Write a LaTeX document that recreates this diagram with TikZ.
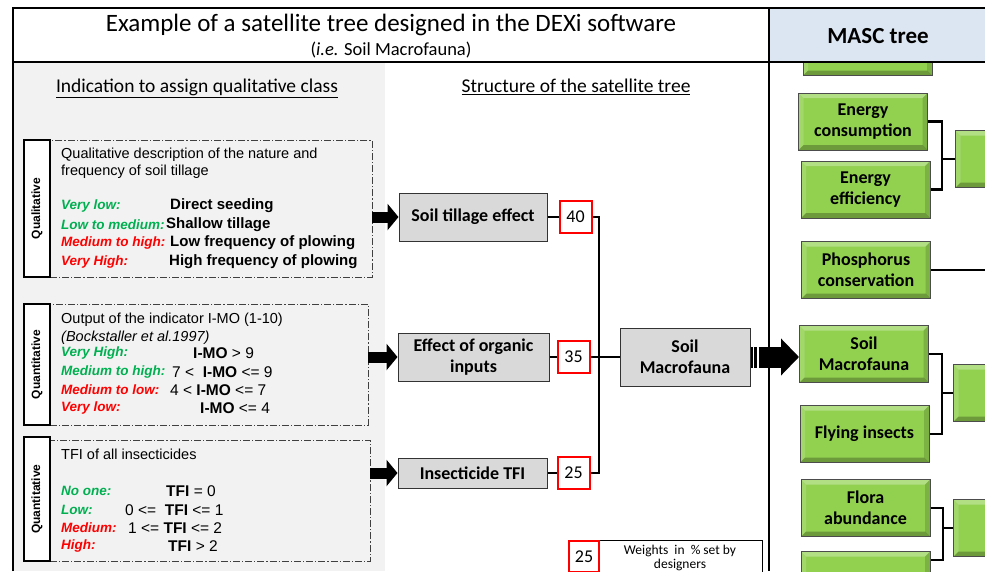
\documentclass[tikz,border=0pt]{standalone}
\usepackage{fontspec}
\setmainfont{Carlito}
\newfontfamily\arialfont{Liberation Sans}
\usetikzlibrary{positioning,arrows.meta}

\definecolor{panelgray}{RGB}{242,242,242}
\definecolor{itemgray}{RGB}{217,217,217}
\definecolor{headblue}{RGB}{220,230,242}
\definecolor{mascgreen}{RGB}{146,208,80}
\definecolor{classgreen}{RGB}{0,176,80}
\definecolor{classred}{RGB}{255,0,0}

\newcommand{\fs}[1]{\fontsize{#1}{#1}\selectfont}

\begin{document}
\begin{tikzpicture}[x=1pt, y=-1pt,
    frame/.style={line width=2.2pt},
    conn/.style={line width=2.2pt},
    kind/.style={draw, line width=2.4pt, fill=white, rotate=90, minimum height=26pt, inner sep=0pt, font=\arialfont\bfseries\fs{12}},
    rule/.style={draw=black!75, line width=0.8pt, dash pattern=on 7pt off 2pt on 1.2pt off 2pt, inner sep=0pt},
    txt/.style={anchor=west, inner sep=0pt, font=\arialfont\fs{14.5}},
    lowcls/.style={txt, text=classgreen, font=\arialfont\bfseries\itshape\fs{13.5}},
    highcls/.style={txt, text=classred, font=\arialfont\bfseries\itshape\fs{13.5}},
    val/.style={txt, font=\arialfont\fs{15.5}},
    valb/.style={txt, font=\arialfont\bfseries\fs{15}},
    item/.style={draw=black!80, fill=itemgray, line width=1pt, align=center, inner sep=0pt, font=\bfseries\fontsize{18}{21}\selectfont},
    weight/.style={draw=red, line width=2pt, fill=white, minimum width=32pt, minimum height=32pt, inner sep=0pt, font=\fs{18}},
    feed/.style={line width=11pt, -{Triangle[length=11pt,width=26pt]}},
    bigfeed/.style={line width=21pt, -{Triangle[length=18pt,width=36pt]}, dash pattern=on 2pt off 1.5pt on 3pt off 1.5pt on 500pt off 1pt},
    crit/.style={draw=black!70, line width=1pt, fill=mascgreen, minimum width=129pt, minimum height=57pt, align=center, inner sep=0pt, font=\bfseries\fontsize{18}{21}\selectfont,
      path picture={
        \fill[white, opacity=.3] (path picture bounding box.north west) -- (path picture bounding box.north east) -- ([shift={(-5pt,-5pt)}]path picture bounding box.north east) -- ([shift={(5pt,-5pt)}]path picture bounding box.north west) -- cycle;
        \fill[white, opacity=.15] (path picture bounding box.north west) -- ([shift={(5pt,-5pt)}]path picture bounding box.north west) -- ([shift={(5pt,5pt)}]path picture bounding box.south west) -- (path picture bounding box.south west) -- cycle;
        \fill[black, opacity=.25] (path picture bounding box.south west) -- (path picture bounding box.south east) -- ([shift={(-5pt,5pt)}]path picture bounding box.south east) -- ([shift={(5pt,5pt)}]path picture bounding box.south west) -- cycle;
        \fill[black, opacity=.15] (path picture bounding box.north east) -- ([shift={(-5pt,-5pt)}]path picture bounding box.north east) -- ([shift={(-5pt,5pt)}]path picture bounding box.south east) -- (path picture bounding box.south east) -- cycle;
      }}]
  \useasboundingbox (0,0) rectangle (985,571);
  \clip (0,0) rectangle (985,571);

  % background and panels
  \fill[white] (0,0) rectangle (985,571);
  \fill[panelgray] (14,63) rectangle (385,571);
  \node[crit] (crit0) at (867.5,47) {};
  \fill[headblue] (770,9) rectangle (985,61);
  \draw[frame] (13,571) -- (13,8) -- (985,8);
  \draw[frame] (13,62) -- (985,62);
  \draw[frame] (769,8) -- (769,571);

  % headings
  \node[font=\fs{25}] (title) at (391,25) {Example of a satellite tree designed in the DEXi software};
  \node[font=\fs{18.5}] (subtitle) at (391,50) {(\textit{i.e.} Soil Macrofauna)};
  \node[font=\bfseries\fs{23}] (masc) at (878,36) {MASC tree};
  \node[font=\fs{19.5}] (hleft) at (197,88) {\underline{Indication to assign qualitative class}};
  \node[font=\fs{19.5}] (hright) at (576,87) {\underline{Structure of the satellite tree}};

  % indicator 1
  \node[rule, minimum width=322pt, minimum height=137pt] (r1) at (211,208.5) {};
  \node[kind, minimum width=137pt] (k1) at (37,208.5) {Qualitative};
  \node[txt] (r1a) at (61,155) {Qualitative description of the nature and};
  \node[txt] (r1b) at (61,172) {frequency of soil tillage};
  \node[lowcls] (r1c) at (61,206) {Very low:};
  \node[valb] (r1cv) at (170,206) {Direct seeding};
  \node[lowcls] (r1d) at (61,225) {Low to medium:};
  \node[valb] (r1dv) at (166,225) {Shallow tillage};
  \node[highcls] (r1e) at (61,243) {Medium to high:};
  \node[valb] (r1ev) at (170,243) {Low frequency of plowing};
  \node[highcls] (r1f) at (61,262) {Very High:};
  \node[valb] (r1fv) at (169,262) {High frequency of plowing};

  % indicator 2
  \node[rule, minimum width=318pt, minimum height=121pt] (r2) at (209,364.5) {};
  \node[kind, minimum width=121pt] (k2) at (37,364.5) {Quantitative};
  \node[txt] (r2a) at (61,320) {Output of the indicator I-MO (1-10)};
  \node[txt, font=\arialfont\itshape\fs{14.5}] (r2b) at (61,338) {(Bockstaller et al.1997)};
  \node[lowcls] (r2c) at (61,353) {Very High:};
  \node[val] (r2cv) at (193,353) {\textbf{I-MO} > 9};
  \node[lowcls] (r2d) at (61,372) {Medium to high:};
  \node[val] (r2dv) at (172,372) {7 <~~\textbf{I-MO} <= 9};
  \node[highcls] (r2e) at (61,390) {Medium to low:};
  \node[val] (r2ev) at (170,390) {4 < \textbf{I-MO} <= 7};
  \node[highcls] (r2f) at (61,408) {Very low:};
  \node[val] (r2fv) at (200,408) {\textbf{I-MO} <= 4};

  % indicator 3
  \node[rule, minimum width=320pt, minimum height=121pt] (r3) at (210,500.5) {};
  \node[kind, minimum width=124pt] (k3) at (37,499) {Quantitative};
  \node[txt] (r3a) at (61,454) {TFI of all insecticides};
  \node[lowcls] (r3b) at (61,491) {No one:};
  \node[val] (r3bv) at (166,491) {\textbf{TFI} = 0};
  \node[lowcls] (r3c) at (61,510) {Low:};
  \node[val] (r3cv) at (125,510) {0 <=~~\textbf{TFI} <= 1};
  \node[highcls] (r3d) at (61,528) {Medium:};
  \node[val] (r3dv) at (128,528) {1 <= \textbf{TFI} <= 2};
  \node[highcls] (r3e) at (61,546) {High:};
  \node[val] (r3ev) at (168,546) {\textbf{TFI} > 2};

  % satellite tree
  \node[item, minimum width=148pt, minimum height=48pt] (tillage) at (473,217) {Soil tillage effect};
  \node[item, minimum width=151pt, minimum height=48pt] (organic) at (473.5,357) {Effect of organic\\inputs};
  \node[item, minimum width=149pt, minimum height=30pt] (insect) at (472.5,473) {Insecticide TFI};
  \node[item, minimum width=130pt, minimum height=58pt] (macro) at (685,357) {Soil\\Macrofauna};
  \node[weight, right=11pt of tillage] (w40) {40};
  \node[weight, right=7pt of organic] (w35) {35};
  \node[weight, right=9pt of insect] (w25) {25};
  \coordinate (bus) at (599,357);

  \draw[conn] (tillage.east) -- (w40.west);
  \draw[conn] (organic.east) -- (w35.west);
  \draw[conn] (insect.east) -- (w25.west);
  \draw[conn] (w40.east) -| (bus);
  \draw[conn] (w25.east) -| (bus);
  \draw[conn] (w35.east) -- (bus) -- (macro.west);

  \draw[feed] (r1.east |- tillage) -- (tillage.west);
  \draw[feed] (r2.east |- organic) -- (organic.west);
  \draw[feed] (r3.east |- insect) -- (insect.west);

  % legend
  \node[draw, line width=0.8pt, minimum width=194pt, minimum height=40pt, anchor=north west] (legend) at (568,540) {};
  \node[weight, minimum width=30pt, minimum height=31pt, anchor=north west] (wkey) at (568,540) {25};
  \node[font=\fontsize{13.5}{14}\selectfont, align=center] (legendtxt) at (680,558) {Weights~~in~~\%~set by\\designers};

  % MASC tree
  \node[crit] (energyc) at (863,121.5) {Energy\\consumption};
  \node[crit] (energye) at (865.5,189.5) {Energy\\efficiency};
  \node[crit] (phos) at (866,270) {Phosphorus\\conservation};
  \node[crit] (soilm) at (864,354) {Soil\\Macrofauna};
  \node[crit] (flying) at (864.5,434) {Flying insects};
  \node[crit] (flora) at (865.5,508) {Flora\\abundance};
  \node[crit] (crit9) at (865.5,580) {};
  \node[crit] (goal1) at (1020,159) {};
  \node[crit] (goal2) at (1018,393) {};
  \node[crit] (goal3) at (1018,528) {};
  \coordinate (j1) at (942,159);
  \coordinate (j2) at (942,393);
  \coordinate (j3) at (943,528);
  \coordinate (phosend) at (990,270);

  \draw[conn] (energyc.east) -| (j1) |- (energye.east);
  \draw[conn] (j1) -- (goal1.west);
  \draw[conn] (phos.east) -- (phosend);
  \draw[conn] (soilm.east) -| (j2) |- (flying.east);
  \draw[conn] (j2) -- (goal2.west);
  \draw[conn] (flora.east) -| (j3) |- ([yshift=20pt]crit9.east);
  \draw[conn] (j3) -- (goal3.west);

  \draw[bigfeed] (macro.east) -- (macro.east -| soilm.west);
\end{tikzpicture}
\end{document}
